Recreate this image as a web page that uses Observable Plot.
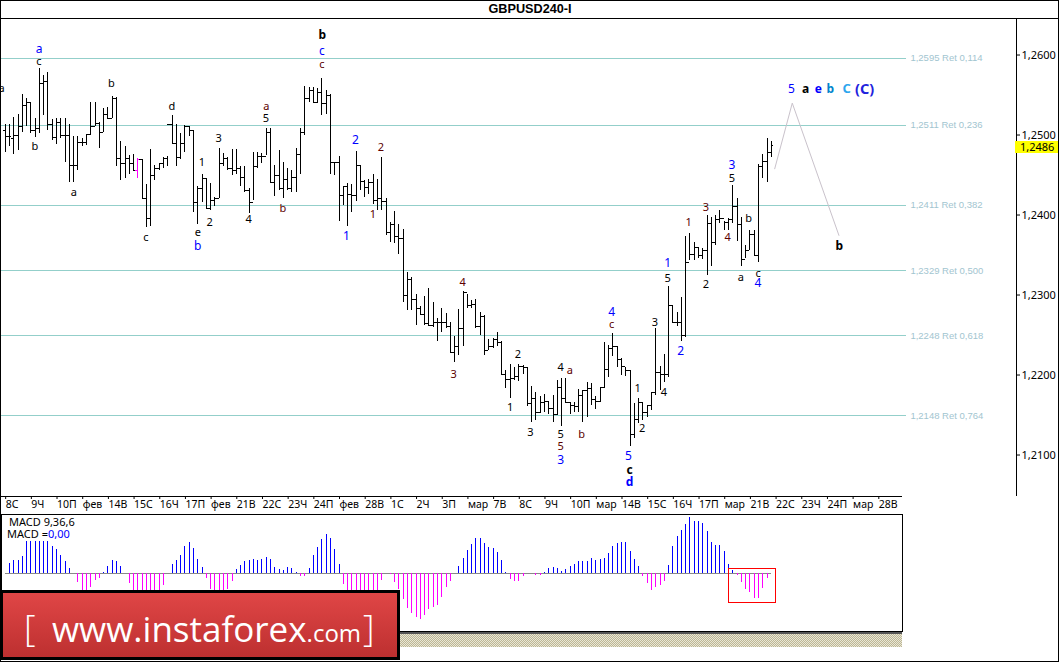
<!DOCTYPE html>
<html><head><meta charset="utf-8">
<script src="https://cdn.jsdelivr.net/npm/d3@7"></script>
<script src="https://cdn.jsdelivr.net/npm/@observablehq/plot@0.6"></script>
<style>
html,body{margin:0;padding:0;background:#fff;overflow:hidden}
#page{position:relative;width:1059px;height:662px;overflow:hidden;font-family:"Liberation Sans",sans-serif;background:#fff}
#page svg{position:absolute;background:transparent;overflow:visible}
#page svg line{shape-rendering:crispEdges}
.c{position:absolute}
#title{left:0;top:0;width:1059px;height:18px;line-height:18px;text-align:center;font-weight:bold;font-size:12.7px;padding-left:1px;box-sizing:border-box}
#tag{left:1015px;top:141px;width:43px;height:11.5px;line-height:12px;background:#ffff00;font-family:"Noto Sans";font-size:11px;padding-left:5px;box-sizing:border-box}
.m{font-family:"Noto Sans";font-size:11px;line-height:12px;white-space:nowrap}
#banner{left:0;top:590px;width:400px;height:70px;box-sizing:border-box;border:3px solid #000;background:linear-gradient(#e04646,#bd3030);color:#fff;font-family:"Open Sans";overflow:hidden}
#banner span{position:absolute;white-space:nowrap}
#hatch{left:400px;top:634px;width:502px;height:13px;background:repeating-conic-gradient(#bdb794 0 25%,#e9e6d6 0 50%) 0 0/2px 2px}
</style></head><body>
<div id="page"></div>
<script>
const high=[12512,12512,12521,12524,12550,12544,12540,12520,12582,12573,12577,12518,12520,12519,12519,12512,12497,12497,12494,12500,12539,12539,12514,12532,12533,12547,12546,12491,12485,12473,12475,12470,12468,12437,12481,12461,12463,12471,12472,12523,12512,12501,12511,12509,12505,12434,12450,12444,12438,12421,12482,12476,12471,12481,12481,12459,12460,12432,12477,12477,12476,12507,12507,12461,12480,12464,12457,12455,12482,12507,12560,12558,12558,12557,12569,12555,12549,12465,12472,12435,12438,12437,12478,12461,12442,12443,12450,12443,12471,12419,12389,12403,12387,12381,12327,12321,12300,12284,12297,12307,12289,12270,12282,12276,12265,12247,12281,12303,12299,12292,12293,12277,12273,12243,12245,12252,12241,12205,12212,12208,12212,12211,12208,12184,12177,12172,12175,12166,12173,12192,12195,12195,12165,12164,12181,12180,12189,12188,12172,12183,12239,12236,12251,12234,12219,12208,12204,12163,12170,12165,12159,12177,12257,12209,12225,12309,12286,12277,12296,12372,12376,12365,12358,12357,12398,12396,12398,12405,12391,12394,12436,12420,12396,12361,12380,12380,12462,12475,12494,12491];
const low=[12477,12484,12475,12480,12502,12510,12501,12496,12501,12523,12504,12492,12487,12495,12464,12440,12440,12454,12485,12486,12498,12510,12482,12502,12519,12519,12460,12442,12444,12450,12455,12445,12419,12383,12385,12442,12454,12457,12459,12488,12459,12468,12477,12497,12402,12387,12414,12407,12405,12410,12419,12460,12455,12448,12450,12435,12427,12401,12417,12457,12463,12473,12439,12422,12430,12420,12429,12427,12427,12450,12498,12540,12538,12538,12523,12525,12450,12448,12391,12411,12384,12402,12416,12430,12421,12425,12412,12405,12404,12373,12364,12363,12349,12289,12280,12280,12261,12275,12261,12259,12258,12241,12252,12257,12226,12214,12223,12234,12282,12282,12257,12248,12223,12230,12232,12234,12200,12182,12169,12192,12191,12200,12160,12139,12142,12151,12152,12150,12139,12148,12134,12164,12150,12152,12152,12139,12146,12161,12156,12165,12182,12196,12222,12208,12198,12197,12109,12120,12138,12142,12146,12155,12173,12179,12190,12196,12265,12260,12241,12246,12342,12342,12344,12343,12323,12335,12361,12388,12380,12380,12388,12366,12335,12344,12355,12348,12340,12445,12440,12471];
const open=[12504,12497,12495,12498,12509,12536,12539,12505,12507,12563,12566,12512,12496,12514,12498,12498,12461,12461,12490,12489,12500,12510,12513,12502,12525,12519,12544,12470,12463,12470,12463,12455,12468,12419,12394,12448,12457,12463,12469,12512,12488,12471,12488,12509,12504,12415,12432,12444,12407,12417,12420,12463,12470,12457,12455,12457,12446,12430,12415,12460,12472,12472,12502,12440,12448,12432,12443,12432,12446,12475,12502,12544,12555,12540,12552,12538,12548,12464,12464,12423,12435,12425,12423,12461,12441,12433,12440,12417,12419,12416,12377,12387,12372,12370,12298,12318,12293,12282,12275,12263,12261,12265,12265,12264,12259,12227,12235,12257,12302,12286,12287,12259,12272,12229,12234,12243,12240,12200,12193,12194,12197,12209,12208,12163,12170,12152,12164,12166,12157,12150,12183,12170,12165,12161,12159,12173,12180,12182,12168,12166,12183,12206,12232,12234,12218,12209,12204,12125,12143,12164,12152,12161,12177,12202,12200,12200,12286,12265,12265,12248,12340,12350,12358,12348,12354,12388,12365,12393,12395,12389,12393,12410,12387,12343,12355,12375,12348,12459,12466,12477];
const close=[12497,12497,12498,12509,12536,12539,12505,12507,12563,12566,12512,12496,12514,12498,12498,12461,12461,12490,12489,12500,12510,12513,12502,12525,12519,12544,12470,12463,12470,12463,12455,12468,12419,12394,12448,12457,12463,12469,12512,12488,12471,12488,12509,12504,12415,12432,12444,12407,12417,12420,12463,12470,12457,12455,12457,12446,12430,12415,12460,12472,12472,12502,12440,12448,12432,12443,12432,12446,12475,12502,12544,12555,12540,12552,12538,12548,12464,12464,12423,12435,12425,12423,12461,12441,12433,12440,12417,12419,12416,12377,12387,12372,12370,12298,12318,12293,12282,12275,12263,12261,12265,12265,12264,12259,12227,12235,12257,12302,12286,12287,12259,12272,12229,12234,12243,12240,12200,12193,12194,12197,12209,12208,12163,12170,12152,12164,12166,12157,12150,12183,12170,12165,12161,12159,12173,12180,12182,12168,12166,12183,12206,12232,12234,12218,12209,12204,12125,12143,12164,12152,12161,12177,12202,12200,12200,12286,12265,12265,12248,12340,12350,12358,12348,12354,12388,12365,12393,12395,12389,12393,12410,12387,12343,12355,12375,12348,12459,12466,12477,12486];
const highlightBars=[31];
const macd=[0,30,40,40,52,97,97,97,97,97,97,82,73,55,37,15,0,-26,-52,-56,-40,-20,-15,3,22,40,38,22,0,-30,-52,-56,-58,-60,-60,-58,-56,-35,0,27,40,55,82,94,75,43,18,-13,-48,-52,-54,-54,-47,-22,12,25,37,40,43,41,43,48,43,18,12,10,18,15,4,-8,-8,16,55,78,102,118,106,72,28,-32,-52,-56,-58,-58,-56,-54,-52,-50,-20,0,-3,-25,-48,-78,-105,-120,-130,-137,-125,-107,-101,-95,-72,-40,-22,0,22,46,70,88,106,106,90,78,76,64,40,3,-16,-24,-22,-8,1,0,-4,-4,3,16,19,16,7,12,22,27,36,36,38,45,40,42,47,60,82,90,95,93,66,42,22,-8,-28,-50,-40,-36,-22,24,82,111,130,148,168,156,158,150,126,93,85,85,66,27,10,-5,-25,-46,-56,-73,-73,-43,-13,0];
const tickLabels=["8С","9Ч","10П","фев","14В","15С","16Ч","17П","фев","21В","22С","23Ч","24П","фев","28В","1С","2Ч","3П","мар","7В","8С","9Ч","10П","мар","14В","15С","16Ч","17П","мар","21В","22С","23Ч","24П","мар","28В"];
const priceTicks=[1.21,1.22,1.23,1.24,1.25,1.26];
const fibLevels=[1.2595,1.2511,1.2411,1.2329,1.2248,1.2148];
const fibRatios=["0,114","0,236","0,382","0,500","0,618","0,764"];
const lastPrice=1.2486;
const projectionBars=[179.8,183.9,194.8];
const projectionPrices=[1.24566,1.25386,1.23733];
// wave labels: [bar, price, text]
const wavesBlack=[[7.86,1.2591,"c"],[-0.86,1.2557,"a"],[24.84,1.2563,"b"],[6.92,1.2484,"b"],[16.04,1.2427,"a"],[38.93,1.2534,"d"],[32.86,1.2371,"c"],[45.94,1.2465,"1"],[45,1.2377,"e"],[47.8,1.2390,"2"],[49.9,1.2495,"3"],[56.9,1.2393,"4"],[60.9,1.2520,"5"],[119.8,1.2224,"2"],[118,1.2158,"1"],[129.8,1.2208,"4"],[122.7,1.2127,"3"],[129.8,1.2124,"5"],[147.8,1.2182,"1"],[148.8,1.2132,"2"],[151.8,1.2265,"3"],[153.9,1.2177,"4"],[154.8,1.2320,"5"],[163.7,1.2312,"2"],[169.8,1.2445,"5"],[171.9,1.2321,"a"],[173.7,1.2395,"b"],[175.9,1.2326,"c"]];
const wavesRed=[[61,1.2535,"a"],[64.9,1.2407,"b"],[73.98,1.2587,"c"],[87.76,1.2483,"2"],[85.9,1.2400,"1"],[106.9,1.2315,"4"],[104.8,1.2200,"3"],[131.9,1.2204,"a"],[129.8,1.2109,"5"],[134.7,1.2125,"b"],[141.7,1.2262,"c"],[159.7,1.2389,"1"],[163.7,1.2408,"3"],[168.8,1.2371,"4"]];
const wavesBlue=[[7.95,1.2606,"a"],[45,1.2360,"b"],[73.98,1.2604,"c"],[79.75,1.2372,"1"],[81.85,1.2492,"2"],[129.8,1.2092,"3"],[141.7,1.2277,"4"],[145.6,1.2097,"5"],[154.8,1.2338,"1"],[157.8,1.2228,"2"],[169.8,1.2461,"3"],[175.9,1.2313,"4"],[183.7,1.2556,"5"]];
const wavesBoldBlack=[[74.07,1.2623,"b"],[145.9,1.2080,"c"],[187,1.2556,"a"],[194.9,1.2360,"b"]];
const wavesBoldBlue=[[145.9,1.2065,"d"],[190,1.2556,"e"]];
const wavesBoldCyan=[[192.8,1.2556,"b"]];
const wavesBoldSky=[[196.6,1.2556,"C"]];
const wavesBoldWave=[[200.8,1.2556,"(C)"]];

const bars=d3.range(high.length);
const plain=bars.filter(i=>!highlightBars.includes(i));
const px=v=>v/10000;
const xScale={type:"linear",domain:[0,179],range:[4.67,770.8]};
const F='"Noto Sans",sans-serif';
const barMarks=(idx,stroke)=>[
  Plot.ruleX(idx,{x:i=>i,y1:i=>px(low[i]),y2:i=>px(high[i]),stroke,strokeWidth:1,shapeRendering:"crispEdges"}),
  Plot.ruleY(idx,{y:i=>px(open[i]),x1:i=>i-0.5,x2:i=>i,stroke,strokeWidth:1,shapeRendering:"crispEdges"}),
  Plot.ruleY(idx,{y:i=>px(close[i]),x1:i=>i,x2:i=>i+0.5,stroke,strokeWidth:1,shapeRendering:"crispEdges"})
];
const waveMark=(d,fill,fontSize,fontWeight)=>Plot.text(d,{x:d=>d[0],y:d=>d[1],text:d=>d[2],fill,fontSize,fontWeight,fontFamily:F});

const main=Plot.plot({
  width:1059,height:512,marginTop:18,marginBottom:16,marginLeft:1,marginRight:43,
  style:{fontFamily:F,fontSize:"10.5px",color:"#000",background:"transparent"},
  x:{...xScale,axis:null},
  y:{domain:[1.26444,1.20469],range:[18,496],axis:null},
  marks:[
    Plot.ruleY(fibLevels,{x1:-1.1,x2:210.5,stroke:"#93cfca",strokeWidth:1,shapeRendering:"crispEdges"}),
    Plot.text(fibLevels,{x:211.5,y:d=>d,text:(d,i)=>`${d.toFixed(4).replace(".",",")} Ret ${fibRatios[i]}`,textAnchor:"start",fill:"#a2c5d0",fontSize:9.5,fontFamily:'"Liberation Sans"'}),
    ...barMarks(plain,"#000"),
    ...barMarks(highlightBars,"#ff00ff"),
    Plot.line(projectionBars.map((b,i)=>[b,projectionPrices[i]]),{x:d=>d[0],y:d=>d[1],stroke:"#c9c2cb",strokeWidth:1}),
    waveMark(wavesBlack,"#000",11,"normal"),
    waveMark(wavesRed,"#5c0000",11,"normal"),
    waveMark(wavesBlue,"#0000ff",12,"normal"),
    waveMark(wavesBoldBlack,"#000",12,"bold"),
    waveMark(wavesBoldBlue,"#0000ff",12,"bold"),
    waveMark(wavesBoldCyan,"#0085cc",12,"bold"),
    waveMark(wavesBoldSky,"#2ea6ee",13,"bold"),
    waveMark(wavesBoldWave,"#2222dd",14.5,"bold"),
    Plot.axisY({anchor:"right",ticks:priceTicks,tickFormat:d=>d.toFixed(4).replace(".",","),tickSize:3,tickPadding:2,label:null,dy:1,fontSize:11}),
    Plot.axisX({anchor:"bottom",ticks:tickLabels.map((_,i)=>i*6),tickFormat:d=>tickLabels[d/6],tickSize:3,tickPadding:1,label:null,textAnchor:"start",dx:0.5,fontSize:10.5})
  ]
});
main.style.left="0";main.style.top="0";

const macdPlot=Plot.plot({
  width:1059,height:118,marginTop:0,marginBottom:1,marginLeft:1,marginRight:157,
  style:{background:"transparent"},
  x:{...xScale,axis:null},
  y:{domain:[178,-173],range:[0,117],axis:null},
  marks:[
    Plot.ruleY([0],{x1:0,x2:179,stroke:"#888",strokeWidth:1,shapeRendering:"crispEdges"}),
    Plot.ruleX(bars.filter(i=>macd[i]>0),{x:i=>i,y1:0,y2:i=>macd[i],stroke:"#0000ff",strokeWidth:1,shapeRendering:"crispEdges"}),
    Plot.ruleX(bars.filter(i=>macd[i]<0),{x:i=>i,y1:0,y2:i=>macd[i],stroke:"#ff00ff",strokeWidth:1,shapeRendering:"crispEdges"}),
    Plot.rect([0],{x1:169.07,x2:180.1,y1:15,y2:-87,fill:"none",stroke:"#ff0000",strokeWidth:1,shapeRendering:"crispEdges"}),
    Plot.frame({stroke:"#000",strokeWidth:1,shapeRendering:"crispEdges"})
  ]
});
macdPlot.style.left="0";macdPlot.style.top="514px";

const page=document.getElementById("page");
page.append(main,macdPlot);
page.insertAdjacentHTML("beforeend",`
<div class="c" id="title">GBPUSD240-I</div>
<div class="c" style="left:0;top:18px;width:1059px;height:1px;background:#000"></div>
<div class="c" style="left:0;top:0;width:1059px;height:1px;background:#000"></div>
<div class="c" style="left:0;top:0;width:1px;height:662px;background:#000"></div>
<div class="c" style="left:1058px;top:0;width:1px;height:662px;background:#000"></div>
<div class="c" style="left:0;top:661px;width:1059px;height:1px;background:#000"></div>
<div class="c" style="left:1016px;top:18px;width:1px;height:478px;background:#000"></div>
<div class="c" style="left:0;top:496px;width:902px;height:1px;background:#000"></div>
<div class="c" style="left:0;top:632px;width:902px;height:2px;background:#555"></div>
<div class="c" id="hatch"></div>
<div class="c" id="tag">${lastPrice.toFixed(4).replace(".",",")}</div>
<div class="c m" style="left:9px;top:516px">MACD 9,36,6</div>
<div class="c m" style="left:7px;top:528px">MACD =<span style="color:#0000ff">0,00</span></div>
<div class="c" id="banner">
 <span style="left:21px;top:15px;font-size:36px;font-weight:300;line-height:40px">[</span>
 <span style="left:49px;top:14px;font-size:35px;line-height:44px;font-weight:400">www.instaforex<span style="position:static;font-size:24px">.com</span></span>
 <span style="left:360px;top:15px;font-size:36px;font-weight:300;line-height:40px">]</span>
</div>`);
</script>
</body></html>
